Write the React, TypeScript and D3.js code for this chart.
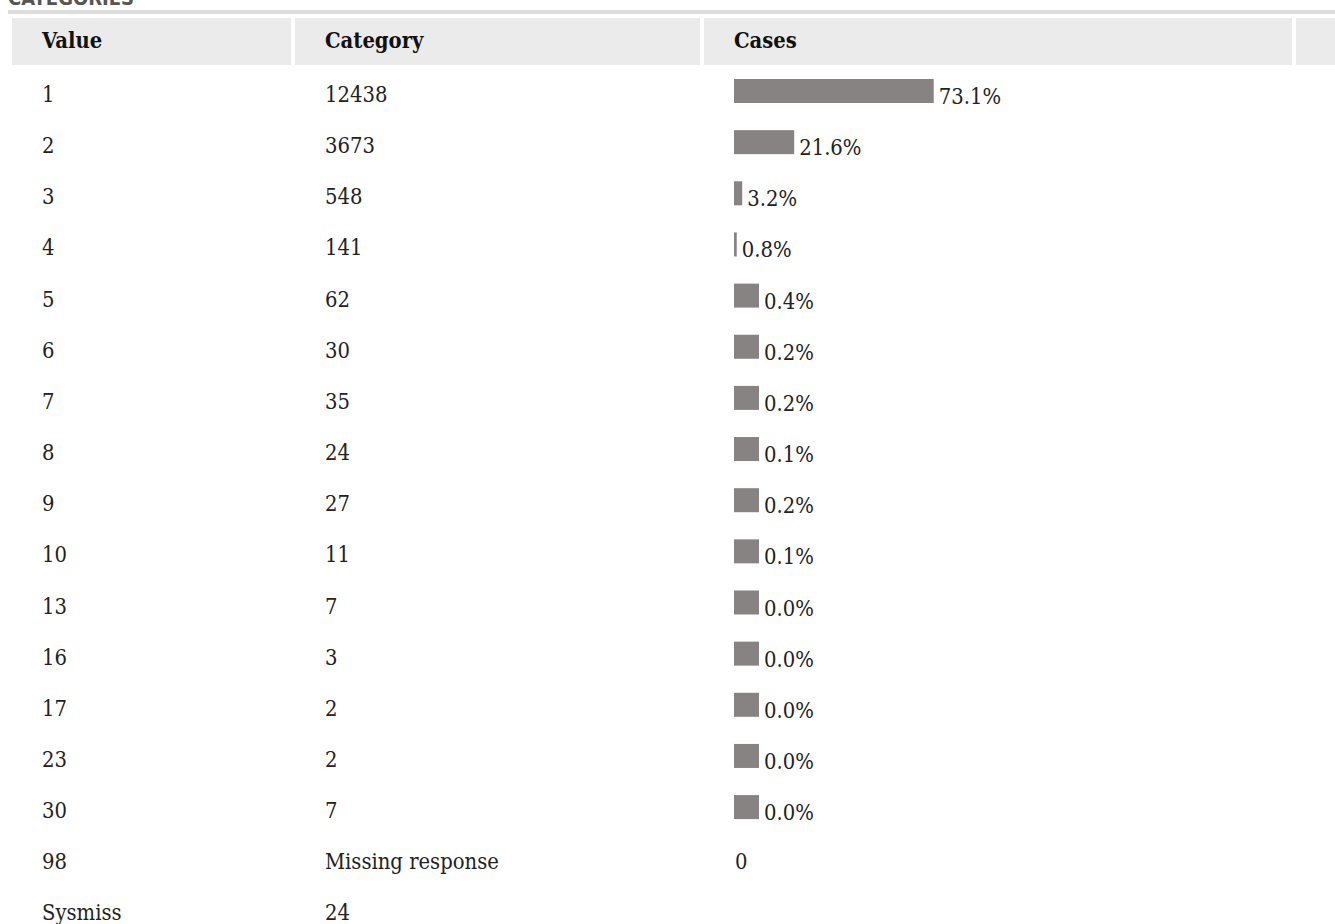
import * as d3 from 'd3';

const values = ['1', '2', '3', '4', '5', '6', '7', '8', '9', '10', '13', '16', '17', '23', '30', '98', 'Sysmiss'];
const categories = ['12438', '3673', '548', '141', '62', '30', '35', '24', '27', '11', '7', '3', '2', '2', '7', 'Missing response', '24'];
const percents: (number | null)[] = [73.1, 21.6, 3.2, 0.8, 0.4, 0.2, 0.2, 0.1, 0.2, 0.1, 0.0, 0.0, 0.0, 0.0, 0.0, null, null];
const casesText: (string | null)[] = [null, null, null, null, null, null, null, null, null, null, null, null, null, null, null, '0', null];
const headers = ['Value', 'Category', 'Cases', ''];

const W = 1335;
const H = 924;
const HEADER_TOP = 18;
const HEADER_H = 47;
const ROW_H = 47;
const SPACING = 4;
const BAR_H = 24;
const MISSING_BAR = 25;
const FONT = '"DejaVu Serif Condensed", "DejaVu Serif", serif';
const FONT_SIZE = 21.8;

// column edges [x0, x1]
const cols: [number, number][] = [
  [12, 291],
  [295, 700],
  [704, 1292],
  [1296, 1340],
];
const TEXT_PAD = 30;

export default function App() {
  const rowY = d3
    .scaleLinear()
    .domain([0, 1])
    .range([HEADER_TOP + HEADER_H + SPACING, HEADER_TOP + HEADER_H + SPACING + ROW_H + SPACING + 0.15]);

  const maxPct = d3.max(percents, d => (d == null ? 0 : Math.round(d))) as number;
  const barX = d3.scaleLinear().domain([0, maxPct]).range([0, 200 * (maxPct / 73.1)]);

  const barStart = cols[2][0] + TEXT_PAD;

  return (
    <svg
      width={W}
      height={H}
      viewBox={`0 0 ${W} ${H}`}
      style={{ position: 'absolute', left: 0, top: 0, background: '#fff' }}
    >
      <text
        x={8}
        y={5}
        fontFamily='"DejaVu Sans Condensed", "DejaVu Sans", sans-serif'
        fontStretch="condensed"
        fontWeight="bold"
        fontSize={20}
        fill="#555"
      >
        CATEGORIES
      </text>
      <rect x={8} y={10} width={W} height={4} fill="#dcdcdc" />

      {headers.map((h, i) => (
        <g key={i}>
          <rect
            x={cols[i][0]}
            y={HEADER_TOP}
            width={cols[i][1] - cols[i][0]}
            height={HEADER_H}
            fill="#ebebeb"
          />
          <text
            x={cols[i][0] + TEXT_PAD}
            y={HEADER_TOP + 30}
            fontFamily={FONT}
            fontStretch="condensed"
            fontWeight="bold"
            fontSize={FONT_SIZE}
            fill="#111"
          >
            {h}
          </text>
        </g>
      ))}

      {values.map((v, i) => {
        const top = rowY(i);
        const pct = percents[i];
        const rounded = pct == null ? 0 : Math.round(pct);
        const w = rounded === 0 ? MISSING_BAR : barX(rounded);
        return (
          <g key={i} fontFamily={FONT} fontStretch="condensed" fontSize={FONT_SIZE} fill="#222">
            <text x={cols[0][0] + TEXT_PAD} y={top + 33}>
              {v}
            </text>
            <text x={cols[1][0] + TEXT_PAD} y={top + 33}>
              {categories[i]}
            </text>
            {pct != null && (
              <>
                <rect x={barStart} y={top + 10} width={w} height={BAR_H} fill="#878382" />
                <text x={barStart + w + 5} y={top + 35}>
                  {pct.toFixed(1)}%
                </text>
              </>
            )}
            {casesText[i] != null && (
              <text x={cols[2][0] + TEXT_PAD + 1} y={top + 33}>
                {casesText[i]}
              </text>
            )}
          </g>
        );
      })}
    </svg>
  );
}
